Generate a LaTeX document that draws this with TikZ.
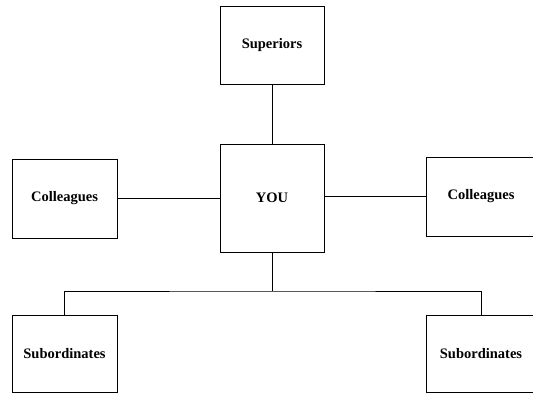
\documentclass[tikz,border=0pt]{standalone}
\usepackage{fontspec}
\setmainfont{Liberation Serif}

\begin{document}
\begin{tikzpicture}[x=1pt, y=-1pt]

	\tikzstyle{person_box} = [rectangle, draw=black, line width=1pt, minimum width=105pt, minimum height=79pt, font=\fontsize{14.5}{16}\selectfont\bfseries, inner sep=0pt]
	\tikzstyle{you_box} = [person_box, minimum width=104pt, minimum height=108pt]
	\tikzstyle{link} = [draw=black, line width=1pt]

	\useasboundingbox (0,0) rectangle (533,394);
	\clip (0,0) rectangle (533,394);

%------------------------------------------------------------
	\node[you_box] (you) at (272,198) {YOU};
	\node[person_box, minimum width=104pt, minimum height=78pt] (sup) at (272,45) {Superiors};

%------------------------------------------------------------

	\node[person_box] (colL) at (64.5,198.5) {Colleagues};
	\node[person_box, minimum width=110pt] (colR) at (481,196.5) {Colleagues};

%------------------------------------------------------------

	\node[person_box, minimum height=77pt] (subL) at (64.5,353.5) {Subordinates};
	\node[person_box, minimum width=110pt, minimum height=77pt] (subR) at (481,353.5) {Subordinates};

	\coordinate (bus) at (272,291);

%------------------------------------------------------------

	\path[link] (you) -- (sup);
	\path[link] (colL) -- (colL -| you.west);
	\path[link] (you.east |- colR) -- (colR);
	\path[link] (you.south) -- (bus);
	\path[link] (subL.north) |- (bus) -| (subR.north);

\end{tikzpicture}
\end{document}
